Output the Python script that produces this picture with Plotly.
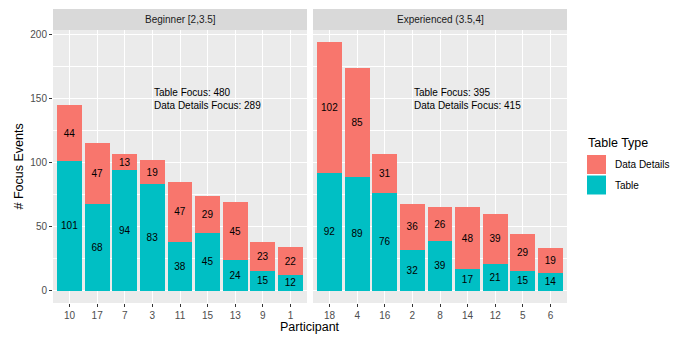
import plotly.graph_objects as go

# Focus events per participant, split by expertise group
beginner_participants = ["10", "17", "7", "3", "11", "15", "13", "9", "1"]
beginner_table = [101, 68, 94, 83, 38, 45, 24, 15, 12]
beginner_details = [44, 47, 13, 19, 47, 29, 45, 23, 22]

experienced_participants = ["18", "4", "16", "2", "8", "14", "12", "5", "6"]
experienced_table = [92, 89, 76, 32, 39, 17, 21, 15, 14]
experienced_details = [102, 85, 31, 36, 26, 48, 39, 29, 19]

facet_labels = ["Beginner [2,3.5]", "Experienced (3.5,4]"]
series_names = ["Data Details", "Table"]
y_ticks = [0, 50, 100, 150, 200]
y_minor = [25, 75, 125, 175]

W, H = 682, 339
DETAILS_COLOR = "#F8766D"
TABLE_COLOR = "#00BFC4"
PANEL_BG = "#EBEBEB"
STRIP_BG = "#D9D9D9"
FONT = "Liberation Sans, Arial, sans-serif"


def px_x(x):
    return x / W


def px_y(y):
    return 1 - y / H


# panel geometry in pixels
panels = [(53, 307), (313, 567)]
panel_top, panel_bottom, strip_top = 30, 303, 9

fig = go.Figure()

facets = [
    (beginner_participants, beginner_table, beginner_details),
    (experienced_participants, experienced_table, experienced_details),
]

for i, (parts, table, details) in enumerate(facets):
    xa = "x" if i == 0 else "x2"
    ya = "y" if i == 0 else "y2"
    for name, vals, color in [
        (series_names[1], table, TABLE_COLOR),
        (series_names[0], details, DETAILS_COLOR),
    ]:
        fig.add_trace(go.Bar(
            x=parts, y=vals, name=name, xaxis=xa, yaxis=ya,
            width=0.9,
            marker=dict(color=color, line=dict(width=0)),
            text=vals, textposition="inside", insidetextanchor="middle",
            textangle=0, constraintext="none",
            textfont=dict(family=FONT, size=10, color="black"),
            showlegend=False,
        ))

axis_common = dict(
    showgrid=True, gridcolor="white", gridwidth=1.1,
    ticks="outside", ticklen=3, tickcolor="#333333", tickwidth=1,
    tickfont=dict(family=FONT, size=10, color="#4D4D4D"),
    showline=False, zeroline=False, fixedrange=True,
)

ydom = [px_y(panel_bottom), px_y(panel_top)]
yrange = [-9.7, 203.7]

layout_axes = {}
for i, (parts, _, _) in enumerate(facets):
    sfx = "" if i == 0 else "2"
    x0, x1 = panels[i]
    layout_axes["xaxis" + sfx] = dict(
        axis_common, domain=[px_x(x0), px_x(x1)], type="category",
        categoryorder="array", categoryarray=parts, range=[-0.6, 8.6],
        anchor="y" + sfx,
    )
    ydict = dict(
        axis_common, domain=ydom, range=yrange, tickvals=y_ticks,
        anchor="x" + sfx,
        minor=dict(tickvals=y_minor, showgrid=True, gridcolor="white",
                   gridwidth=0.55),
    )
    if i == 1:
        ydict.update(showticklabels=False, ticks="", matches="y")
    layout_axes["yaxis" + sfx] = ydict

shapes = []
annotations = []

# facet strips
for i, (x0, x1) in enumerate(panels):
    shapes.append(dict(type="rect", xref="paper", yref="paper",
                       x0=px_x(x0), x1=px_x(x1),
                       y0=px_y(panel_top), y1=px_y(strip_top),
                       fillcolor=STRIP_BG, line=dict(width=0), layer="below"))
    annotations.append(dict(xref="paper", yref="paper",
                            x=px_x((x0 + x1) / 2), y=px_y((panel_top + strip_top) / 2),
                            text=facet_labels[i], showarrow=False,
                            xanchor="center", yanchor="middle",
                            font=dict(family=FONT, size=10, color="#1A1A1A")))

# per-facet totals, left-aligned on the fourth participant slot
for i, (parts, table, details) in enumerate(facets):
    sfx = "" if i == 0 else "2"
    annotations.append(dict(
        xref="x" + sfx, yref="y" + sfx, x=3, y=150,
        text=f"Table Focus: {sum(table)}<br>Data Details Focus: {sum(details)}",
        showarrow=False, xanchor="left", yanchor="middle", align="left",
        font=dict(family=FONT, size=10, color="black"),
    ))

# axis titles
annotations.append(dict(xref="paper", yref="paper",
                        x=px_x((panels[0][0] + panels[1][1]) / 2), y=px_y(327),
                        text="Participant", showarrow=False,
                        xanchor="center", yanchor="middle",
                        font=dict(family=FONT, size=12.5, color="black")))
annotations.append(dict(xref="paper", yref="paper",
                        x=px_x(18), y=px_y((panel_top + panel_bottom) / 2),
                        text="# Focus Events", showarrow=False, textangle=-90,
                        xanchor="center", yanchor="middle",
                        font=dict(family=FONT, size=12.5, color="black")))

# legend
annotations.append(dict(xref="paper", yref="paper", x=px_x(586), y=px_y(143),
                        text="Table Type", showarrow=False,
                        xanchor="left", yanchor="middle",
                        font=dict(family=FONT, size=12.5, color="black")))
key_rows = [(series_names[0], DETAILS_COLOR, 155, 174),
            (series_names[1], TABLE_COLOR, 175.5, 194.5)]
for label, color, ky0, ky1 in key_rows:
    shapes.append(dict(type="rect", xref="paper", yref="paper",
                       x0=px_x(587), x1=px_x(606), y0=px_y(ky1), y1=px_y(ky0),
                       fillcolor=color, line=dict(width=0)))
    annotations.append(dict(xref="paper", yref="paper",
                            x=px_x(613), y=px_y((ky0 + ky1) / 2),
                            text=label, showarrow=False,
                            xanchor="left", yanchor="middle",
                            font=dict(family=FONT, size=10, color="black")))

fig.update_layout(
    width=W, height=H,
    margin=dict(l=0, r=0, t=0, b=0),
    paper_bgcolor="white", plot_bgcolor=PANEL_BG,
    barmode="stack", showlegend=False,
    font=dict(family=FONT),
    shapes=shapes, annotations=annotations,
    **layout_axes,
)

fig.write_html("out.html")
